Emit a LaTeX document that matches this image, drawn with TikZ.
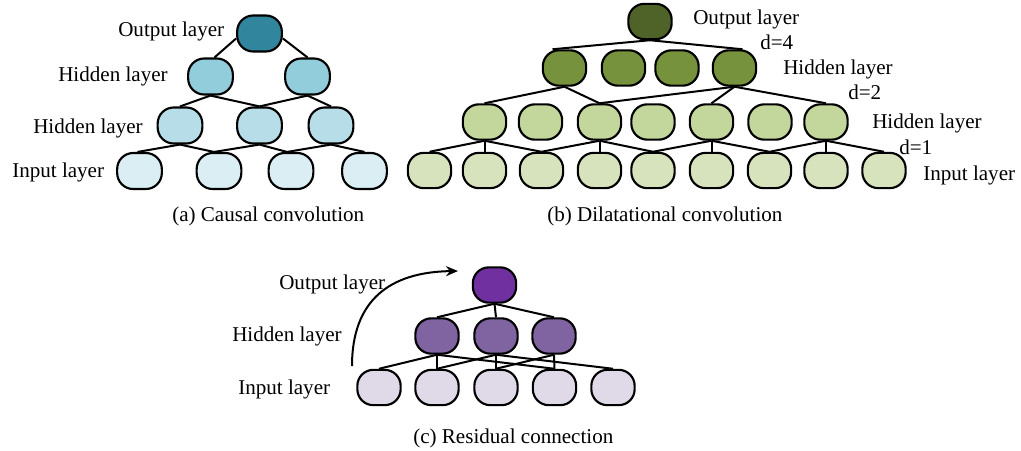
\documentclass[tikz,border=0pt]{standalone}
\usepackage{fontspec}
\setmainfont{Liberation Serif}
\usetikzlibrary{calc,arrows.meta}

% Office-style palette
\definecolor{tealD}{HTML}{31859C}
\definecolor{tealM}{HTML}{92CDDC}
\definecolor{tealL}{HTML}{B7DEE8}
\definecolor{tealX}{HTML}{DAEEF3}
\definecolor{oliveD}{HTML}{4F6228}
\definecolor{oliveM}{HTML}{76923C}
\definecolor{oliveL}{HTML}{C3D69B}
\definecolor{oliveX}{HTML}{D7E3BC}
\definecolor{purpD}{HTML}{7030A0}
\definecolor{purpM}{HTML}{8064A2}
\definecolor{purpX}{HTML}{E0DAE8}

\begin{document}
\begin{tikzpicture}[x=0.75pt,y=-0.75pt,
  font=\fontsize{15.8}{18}\selectfont,
  unit/.style={draw=black, line width=1.6pt, rounded corners=12pt,
    minimum width=32.5pt, minimum height=26.5pt, inner sep=0pt},
  unita/.style={unit, minimum width=33.5pt, minimum height=27pt},
  link/.style={draw=black, line width=1.5pt},
  lbl/.style={anchor=base west, inner sep=0pt}]

\useasboundingbox (0,0) rectangle (1021,450);

% ---------------- (a) causal convolution ----------------
\node[unita, fill=tealD] (ao)  at (259.5,33.5) {};
\node[unita, fill=tealM] (a1a) at (210.5,76.5) {};
\node[unita, fill=tealM] (a1b) at (307.5,76.5) {};
\node[unita, fill=tealL] (a2a) at (180,125.5) {};
\node[unita, fill=tealL] (a2b) at (259.5,125.5) {};
\node[unita, fill=tealL] (a2c) at (331,125.5) {};
\node[unita, fill=tealX] (ai1) at (139.5,171) {};
\node[unita, fill=tealX] (ai2) at (219,171) {};
\node[unita, fill=tealX] (ai3) at (291,171) {};
\node[unita, fill=tealX] (ai4) at (364.5,171) {};

\draw[link] (ao.192) -- ($(a1a.north)+(4,0)$);
\draw[link] (ao.348) -- (a1b.north);
\draw[link] (a1a.south) -- (a2a.north);
\draw[link] (a1a.south) -- (a2b.north);
\draw[link] (a1b.south) -- (a2b.north);
\draw[link] (a1b.south) -- (a2c.north);
\draw[link] (a2a.south) -- ($(ai1.north)+(-2,0)$);
\draw[link] (a2a.south) -- ($(ai2.north)+(-5,0)$);
\draw[link] (a2b.south) -- ($(ai2.north)+(-5,0)$);
\draw[link] (a2b.south) -- ($(ai3.north)+(-4,0)$);
\draw[link] (a2c.south) -- ($(ai3.north)+(-4,0)$);
\draw[link] (a2c.south) -- (ai4.north);

\node[lbl] (at1) at (118,36)  {Output layer};
\node[lbl] (at2) at (58,81)   {Hidden layer};
\node[lbl] (at3) at (33,133)  {Hidden layer};
\node[lbl] (at4) at (12,177)  {Input layer};
\node[lbl] (acap) at (172,221) {(a) Causal convolution};

% ---------------- (b) dilatational convolution ----------------
\node[unit, fill=oliveD] (bo)  at (650,21.5) {};
\node[unit, fill=oliveM] (b1a) at (564.5,68) {};
\node[unit, fill=oliveM] (b1b) at (623.5,68) {};
\node[unit, fill=oliveM] (b1c) at (677,68) {};
\node[unit, fill=oliveM] (b1d) at (734.5,68) {};
\foreach \x [count=\i] in {484.5,540.5,599.5,653,711.5,770,826}
  \node[unit, fill=oliveL] (b2\i) at (\x,122) {};
\foreach \x [count=\i] in {429.5,484.5,541.5,599.5,653,711.5,769.5,826,884}
  \node[unit, fill=oliveX] (bi\i) at (\x,170.5) {};

\draw[link] (bo.south) -- ($(b1a.north)+(-12,0)$);
\draw[link] (bo.south) -- ($(b1d.north)+(8,0)$);
\draw[link] (b1a.south) -- (b21.north);
\draw[link] (b1a.south) -- (b23.north);
\draw[link] (b1d.south) -- (b23.north);
\draw[link] (b1d.south) -- (b25.north);
\draw[link] (b1d.south) -- (b27.north);
\draw[link] (b21.south) -- (bi1.north);
\draw[link] (b21.south) -- (bi2.north);
\draw[link] (b21.south) -- (bi3.north);
\draw[link] (b23.south) -- (bi3.north);
\draw[link] (b23.south) -- (bi4.north);
\draw[link] (b23.south) -- (bi5.north);
\draw[link] (b25.south) -- (bi5.north);
\draw[link] (b25.south) -- (bi6.north);
\draw[link] (b25.south) -- (bi7.north);
\draw[link] (b27.south) -- (bi7.north);
\draw[link] (b27.south) -- (bi8.north);
\draw[link] (b27.south) -- (bi9.north);

\node[lbl] (bt1) at (693,24)  {Output layer};
\node[lbl] (bd4) at (760,49)  {d=4};
\node[lbl] (bt2) at (783,74)  {Hidden layer};
\node[lbl] (bd2) at (848,99)  {d=2};
\node[lbl] (bt3) at (872,128) {Hidden layer};
\node[lbl] (bd1) at (899,154) {d=1};
\node[lbl] (bt4) at (923,180) {Input layer};
\node[lbl] (bcap) at (547,221) {(b) Dilatational convolution};

% ---------------- (c) residual connection ----------------
\node[unit, fill=purpD] (co)  at (494.5,285) {};
\node[unit, fill=purpM] (c1a) at (437,336) {};
\node[unit, fill=purpM] (c1b) at (496,336) {};
\node[unit, fill=purpM] (c1c) at (554,336) {};
\foreach \x [count=\i] in {379,437,496,554.5,613}
  \node[unit, fill=purpX] (ci\i) at (\x,387.5) {};

\draw[link] (co.south) -- (c1a.north);
\draw[link] (co.south) -- (c1b.north);
\draw[link] (co.south) -- (c1c.north);
\draw[link] (c1a.south) -- (ci1.north);
\draw[link] (c1a.south) -- (ci2.north);
\draw[link] (c1a.south) -- (ci4.north);
\draw[link] (c1b.south) -- (ci2.north);
\draw[link] (c1b.south) -- (ci3.north);
\draw[link] (c1b.south) -- (ci5.north);
\draw[link] (c1c.south) -- (ci3.north);
\draw[link] (c1c.south) -- (ci4.north);

% skip path around the block
\coordinate (rs) at (352,366);
\coordinate (re) at (458,271);
\draw[line width=1.5pt, -{Stealth[length=9pt,width=7.5pt]}]
  (rs) .. controls (352,300) and (390,272) .. (re);

\node[lbl] (ct1) at (279,289) {Output layer};
\node[lbl] (ct2) at (232,341) {Hidden layer};
\node[lbl] (ct3) at (238,394) {Input layer};
\node[lbl] (ccap) at (413,443) {(c) Residual connection};
\end{tikzpicture}
\end{document}
